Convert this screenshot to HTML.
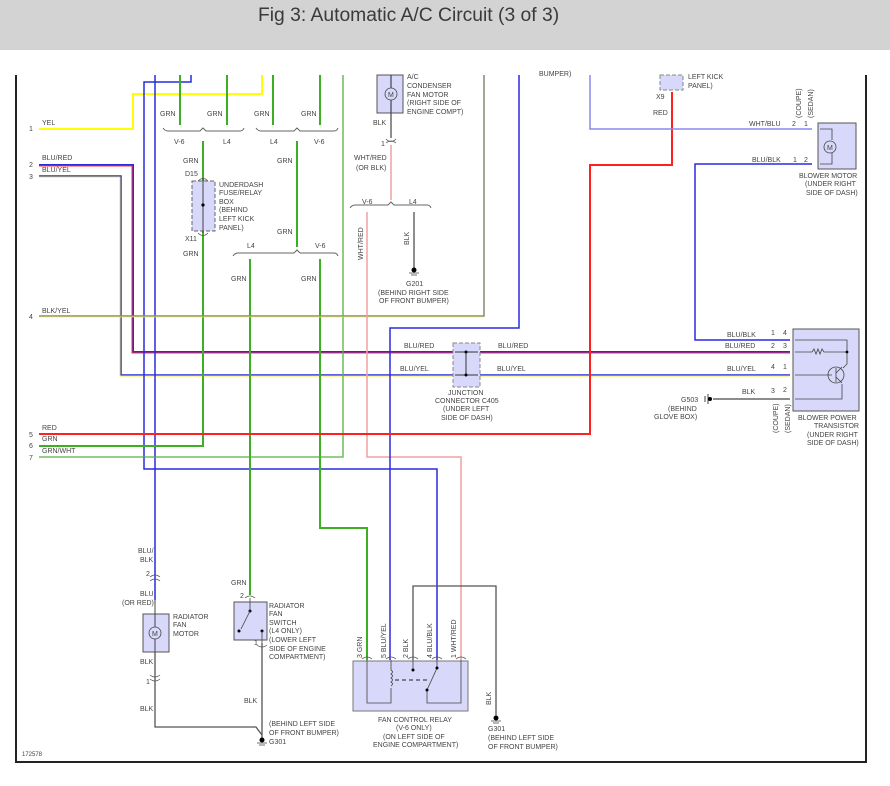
<!DOCTYPE html>
<html><head><meta charset="utf-8"><style>
html,body{margin:0;padding:0;background:#fff;width:890px;height:786px;overflow:hidden}
.hdr{position:absolute;left:0;top:0;width:890px;height:50px;background:#d3d3d3}
.hdr span{position:absolute;left:258px;top:5px;font:19.3px "Liberation Sans",sans-serif;color:#3a3a3a}
svg{position:absolute;left:0;top:0}
text{font-family:"Liberation Sans",sans-serif;font-size:7px;fill:#444}
</style></head><body>
<div class="hdr"><span>Fig 3: Automatic A/C Circuit (3 of 3)</span></div>
<svg width="890" height="786" viewBox="0 0 890 786" fill="none">
<path d="M16 75V762H866V75" stroke="#222" stroke-width="2"/>
<path d="M39 129H133V94H262V75" stroke="#ffff00" stroke-width="2"/>
<path d="M39 165H133V352H790" stroke="#2a2ae0" stroke-width="2"/>
<path d="M39 166H132V353H790" stroke="#ff3030" stroke-width="1"/>
<path d="M39 176H121V375H790" stroke="#2a2ae0" stroke-width="1.5"/>
<path d="M39 177H120V376H790" stroke="#eeee40" stroke-width="1"/>
<path d="M191 75V82H144V469H437V660" stroke="#2a2ae0" stroke-width="1.5"/>
<path d="M155 75V600" stroke="#2a2ae0" stroke-width="1.5"/>
<path d="M180 75V125M227 75V125M273 75V125M320 75V125" stroke="#3cb022" stroke-width="2"/>
<path d="M203 141V446H39" stroke="#3cb022" stroke-width="2"/>
<path d="M297 141V247" stroke="#3cb022" stroke-width="2"/>
<path d="M250 259V595" stroke="#3cb022" stroke-width="2"/>
<path d="M320 259V528H367V660" stroke="#3cb022" stroke-width="2"/>
<path d="M343 75V457H39" stroke="#55b040" stroke-width="1.3"/>
<path d="M39 316H484V75" stroke="#888870" stroke-width="1.5"/>
<path d="M39 317H483" stroke="#eeee55" stroke-width="0.8"/>
<path d="M163 128q2 3 5 3H200l3 -3l3 3H240q3 0 4 -3" stroke="#666" stroke-width="1"/>
<path d="M256 128q2 3 5 3H294l3 -3l3 3H334q3 0 4 -3" stroke="#666" stroke-width="1"/>
<path d="M233 256q2 -3 5 -3H294l3 -3l3 3H334q3 0 4 3" stroke="#666" stroke-width="1"/>
<path d="M350 208q2 -3 5 -3H388l3 -3l3 3H427q3 0 4 3" stroke="#666" stroke-width="1"/>
<rect x="377" y="75" width="26" height="38" fill="#d8d8fa" stroke="#555"/>
<path d="M391 75V138" stroke="#444" stroke-width="1.2"/>
<circle cx="391" cy="94" r="6" fill="#d8d8fa" stroke="#444" stroke-width="0.8"/>
<text x="388" y="97" style="font-size:7px">M</text>
<path d="M386 139q5 5 10 0M386 143q5 -4 10 0" stroke="#555" stroke-width="0.8"/>
<path d="M391 145V200" stroke="#f0a0a0" stroke-width="1.5"/>
<path d="M367 212V457H461V660" stroke="#f0a0a0" stroke-width="1.5"/>
<path d="M414 212V268" stroke="#444" stroke-width="1.2"/>
<path d="M519 75V328H390V660" stroke="#2a2ae0" stroke-width="1.5"/>
<path d="M39 434H590V165H672V92" stroke="#ff2020" stroke-width="2"/>
<path d="M590 75V129H812" stroke="#8888ee" stroke-width="1.5"/>
<path d="M812 164H695V340H790" stroke="#2a2ae0" stroke-width="1.5"/>
<path d="M713 399H790" stroke="#666" stroke-width="1.5"/>
<path d="M413 660V586H496V705" stroke="#555" stroke-width="1.3"/>
<path d="M155 652V727H256L262 735" stroke="#555" stroke-width="1.3"/>
<path d="M262 643V738" stroke="#555" stroke-width="1.3"/>
<rect x="192" y="181" width="23" height="50" fill="#d8d8fa" stroke="#666" stroke-dasharray="4 2"/>
<path d="M203 178V233" stroke="#444"/><circle cx="203" cy="205" r="1.6" fill="#000"/>
<path d="M198 181q5 -5 10 0M198 233q5 5 10 0" stroke="#555" stroke-width="0.8"/>
<rect x="453" y="343" width="27" height="44" fill="#d8d8fa" stroke="#888" stroke-dasharray="4 2"/>
<path d="M466 352V375M455 352H478M455 375H478" stroke="#333"/>
<circle cx="466" cy="352" r="1.5" fill="#000"/><circle cx="466" cy="375" r="1.5" fill="#000"/>
<rect x="660" y="75" width="23" height="15" fill="#d8d8fa" stroke="#888" stroke-dasharray="4 2"/>
<rect x="818" y="123" width="38" height="46" fill="#d8d8fa" stroke="#555"/>
<path d="M820 129H832V140M820 164H832V153" stroke="#444" stroke-width="0.8"/>
<circle cx="830" cy="147" r="6" fill="#d8d8fa" stroke="#444" stroke-width="0.8"/>
<text x="827" y="150">M</text>
<rect x="793" y="329" width="66" height="82" fill="#d8d8fa" stroke="#555"/>
<path d="M795 340H847V352M795 352H812l2 -3l2 5l2 -5l2 5l2 -5l2 3H847M847 352V364l-4 4M795 375H832M836 368V382M842 384V399H795" stroke="#444" stroke-width="0.8"/>
<circle cx="847" cy="352" r="1.4" fill="#000"/>
<circle cx="836" cy="375" r="8" stroke="#444" stroke-width="0.8"/>
<path d="M836 373l6 -6M836 377l6 6" stroke="#444" stroke-width="0.8"/>
<path d="M705 396V402M708 394V404" stroke="#444"/><circle cx="710" cy="399" r="2" fill="#000"/>
<circle cx="414" cy="270" r="2.5" fill="#000"/><path d="M409 273H419M411 275H417" stroke="#444" stroke-width="0.8"/>
<circle cx="262" cy="740" r="2.5" fill="#000"/><path d="M257 743H267M259 745H265" stroke="#444" stroke-width="0.8"/>
<circle cx="496" cy="718" r="2.5" fill="#000"/><path d="M491 721H501M493 723H499" stroke="#444" stroke-width="0.8"/>
<path d="M496 705V716" stroke="#555" stroke-width="1.3"/>
<rect x="143" y="614" width="26" height="38" fill="#d8d8fa" stroke="#555"/>
<path d="M155 600V652" stroke="#444"/>
<circle cx="155" cy="633" r="6" fill="#d8d8fa" stroke="#444" stroke-width="0.8"/>
<text x="152" y="636">M</text>
<path d="M150 577q5 -4 10 0M150 581q5 -4 10 0M150 675q5 4 10 0M150 679q5 4 10 0" stroke="#555" stroke-width="0.8"/>
<rect x="234" y="602" width="33" height="38" fill="#d8d8fa" stroke="#555"/>
<circle cx="250" cy="611" r="1.5" fill="#000"/><circle cx="239" cy="631" r="1.5" fill="#000"/><circle cx="262" cy="631" r="1.5" fill="#000"/>
<path d="M250 598V611L241 629M262 631V643" stroke="#444" stroke-width="0.8"/>
<path d="M245 598q5 -4 10 0M257 645q5 4 10 0" stroke="#555" stroke-width="0.8"/>
<rect x="353" y="661" width="115" height="50" fill="#d8d8fa" stroke="#777"/>
<path d="M367 660V703H391V688M391 660V670q3 2 0 4q3 2 0 4q3 2 0 4q3 2 0 4M413 660V670M437 660V668L427 690V703H461V660" stroke="#444" stroke-width="0.8"/>
<path d="M395 680H427" stroke="#222" stroke-dasharray="4 3"/>
<circle cx="413" cy="670" r="1.5" fill="#000"/><circle cx="437" cy="668" r="1.5" fill="#000"/><circle cx="427" cy="690" r="1.5" fill="#000"/>
<path d="M362 659q5 -4 10 0M386 659q5 -4 10 0M408 659q5 -4 10 0M432 659q5 -4 10 0M456 659q5 -4 10 0" stroke="#555" stroke-width="0.8"/>
<text x="29" y="131">1</text><text x="42" y="125">YEL</text>
<text x="29" y="167">2</text><text x="42" y="160">BLU/RED</text>
<text x="29" y="179">3</text><text x="42" y="172">BLU/YEL</text>
<text x="29" y="319">4</text><text x="42" y="313">BLK/YEL</text>
<text x="29" y="437">5</text><text x="42" y="430">RED</text>
<text x="29" y="448">6</text><text x="42" y="441">GRN</text>
<text x="29" y="460">7</text><text x="42" y="453">GRN/WHT</text>
<text x="160" y="116">GRN</text><text x="207" y="116">GRN</text><text x="254" y="116">GRN</text><text x="301" y="116">GRN</text>
<text x="174" y="144">V-6</text><text x="223" y="144">L4</text><text x="270" y="144">L4</text><text x="314" y="144">V-6</text>
<text x="183" y="163">GRN</text><text x="185" y="176">D15</text><text x="185" y="241">X11</text><text x="183" y="256">GRN</text>
<text x="219" y="187">UNDERDASH</text><text x="219" y="195">FUSE/RELAY</text><text x="219" y="204">BOX</text><text x="219" y="212">(BEHIND</text><text x="219" y="221">LEFT KICK</text><text x="219" y="230">PANEL)</text>
<text x="277" y="163">GRN</text><text x="277" y="234">GRN</text>
<text x="247" y="248">L4</text><text x="315" y="248">V-6</text>
<text x="231" y="281">GRN</text><text x="301" y="281">GRN</text>
<text x="407" y="79">A/C</text><text x="407" y="88">CONDENSER</text><text x="407" y="97">FAN MOTOR</text><text x="407" y="105">(RIGHT SIDE OF</text><text x="407" y="114">ENGINE COMPT)</text>
<text x="373" y="125">BLK</text><text x="381" y="146">1</text>
<text x="354" y="160">WHT/RED</text><text x="356" y="170">(OR BLK)</text>
<text x="362" y="204">V-6</text><text x="409" y="204">L4</text>
<text transform="translate(363,260) rotate(-90)">WHT/RED</text>
<text transform="translate(409,245) rotate(-90)">BLK</text>
<text x="406" y="286">G201</text><text x="378" y="295">(BEHIND RIGHT SIDE</text><text x="379" y="303">OF FRONT BUMPER)</text>
<text x="539" y="76">BUMPER)</text>
<text x="688" y="79">LEFT KICK</text><text x="688" y="88">PANEL)</text>
<text x="656" y="99">X9</text><text x="653" y="115">RED</text>
<text x="749" y="126">WHT/BLU</text><text x="792" y="126">2</text><text x="804" y="126">1</text>
<text transform="translate(801,118) rotate(-90)">(COUPE)</text><text transform="translate(813,118) rotate(-90)">(SEDAN)</text>
<text x="752" y="162">BLU/BLK</text><text x="793" y="162">1</text><text x="804" y="162">2</text>
<text x="799" y="178">BLOWER MOTOR</text><text x="805" y="186">(UNDER RIGHT</text><text x="806" y="195">SIDE OF DASH)</text>
<text x="404" y="348">BLU/RED</text><text x="498" y="348">BLU/RED</text>
<text x="400" y="371">BLU/YEL</text><text x="497" y="371">BLU/YEL</text>
<text x="448" y="395">JUNCTION</text><text x="435" y="403">CONNECTOR C405</text><text x="443" y="411">(UNDER LEFT</text><text x="441" y="420">SIDE OF DASH)</text>
<text x="727" y="337">BLU/BLK</text><text x="771" y="335">1</text><text x="783" y="335">4</text>
<text x="725" y="348">BLU/RED</text><text x="771" y="348">2</text><text x="783" y="348">3</text>
<text x="727" y="371">BLU/YEL</text><text x="771" y="369">4</text><text x="783" y="369">1</text>
<text x="742" y="394">BLK</text><text x="771" y="393">3</text><text x="783" y="392">2</text>
<text x="681" y="402">G503</text><text x="668" y="411">(BEHIND</text><text x="654" y="419">GLOVE BOX)</text>
<text transform="translate(778,433) rotate(-90)">(COUPE)</text><text transform="translate(790,433) rotate(-90)">(SEDAN)</text>
<text x="798" y="420">BLOWER POWER</text><text x="814" y="428">TRANSISTOR</text><text x="807" y="437">(UNDER RIGHT</text><text x="807" y="445">SIDE OF DASH)</text>
<text x="138" y="553">BLU/</text><text x="140" y="562">BLK</text><text x="146" y="576">2</text>
<text x="140" y="596">BLU</text><text x="122" y="605">(OR RED)</text>
<text x="173" y="619">RADIATOR</text><text x="173" y="627">FAN</text><text x="173" y="636">MOTOR</text>
<text x="140" y="664">BLK</text><text x="146" y="684">1</text><text x="140" y="711">BLK</text>
<text x="231" y="585">GRN</text><text x="240" y="598">2</text>
<text x="269" y="608">RADIATOR</text><text x="269" y="616">FAN</text><text x="269" y="625">SWITCH</text><text x="269" y="633">(L4 ONLY)</text><text x="269" y="642">(LOWER LEFT</text><text x="269" y="651">SIDE OF ENGINE</text><text x="269" y="659">COMPARTMENT)</text>
<text x="254" y="645">1</text><text x="244" y="703">BLK</text>
<text x="269" y="726">(BEHIND LEFT SIDE</text><text x="269" y="735">OF FRONT BUMPER)</text><text x="269" y="744">G301</text>
<text transform="translate(362,658) rotate(-90)">3  GRN</text>
<text transform="translate(386,658) rotate(-90)">5  BLU/YEL</text>
<text transform="translate(408,658) rotate(-90)">2  BLK</text>
<text transform="translate(432,658) rotate(-90)">4  BLU/BLK</text>
<text transform="translate(456,658) rotate(-90)">1  WHT/RED</text>
<text x="378" y="722">FAN CONTROL RELAY</text><text x="396" y="730">(V-6 ONLY)</text><text x="383" y="739">(ON LEFT SIDE OF</text><text x="373" y="747">ENGINE COMPARTMENT)</text>
<text transform="translate(491,705) rotate(-90)">BLK</text>
<text x="488" y="731">G301</text><text x="488" y="740">(BEHIND LEFT SIDE</text><text x="488" y="749">OF FRONT BUMPER)</text>
<text x="22" y="756" style="font-size:6px">172578</text>
</svg>
</body></html>
